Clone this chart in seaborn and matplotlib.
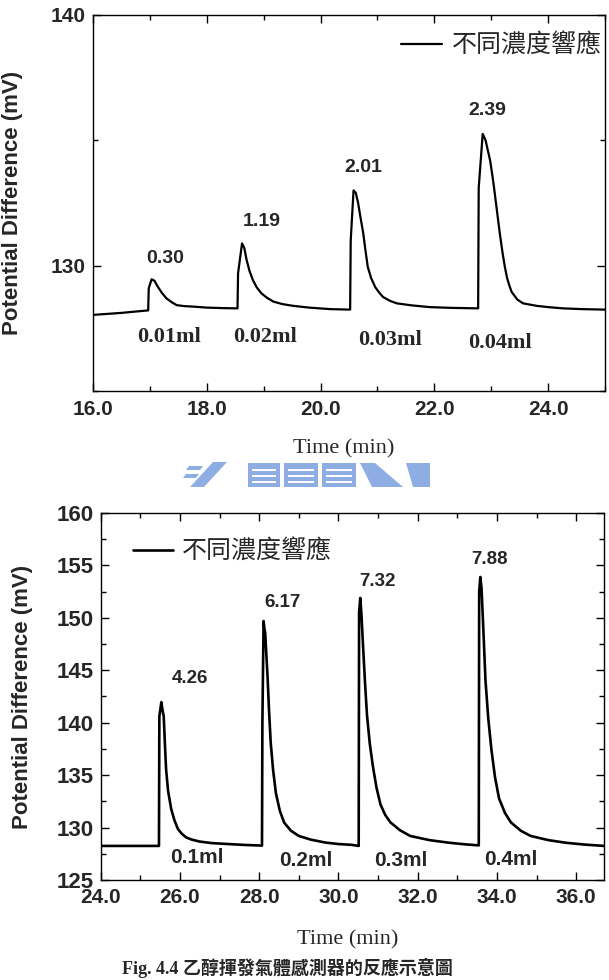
import numpy as np
import pandas as pd
import matplotlib
matplotlib.use("Agg")
import matplotlib.pyplot as plt
from matplotlib.ticker import MultipleLocator, FormatStrFormatter
from matplotlib.patches import Polygon
import seaborn as sns

# 上圖：小體積注入 (time min, potential mV)
top_trace = [
    (16.00, 128.04), (16.50, 128.12), (16.97, 128.22),
    (16.98, 129.10), (17.03, 129.46), (17.08, 129.40), (17.14, 129.16), (17.21, 128.92),
    (17.29, 128.70), (17.38, 128.55), (17.47, 128.43), (17.60, 128.39), (17.76, 128.37),
    (18.00, 128.33), (18.29, 128.31), (18.54, 128.30),
    (18.55, 129.70), (18.62, 130.89), (18.66, 130.70), (18.70, 130.23), (18.75, 129.80),
    (18.81, 129.43), (18.88, 129.13), (18.96, 128.90), (19.06, 128.72), (19.17, 128.57),
    (19.33, 128.47), (19.52, 128.40), (19.80, 128.33), (20.17, 128.27), (20.52, 128.25),
    (20.53, 131.00), (20.58, 133.00), (20.62, 132.90), (20.66, 132.50), (20.70, 131.95),
    (20.75, 131.30), (20.79, 130.60), (20.83, 129.95), (20.89, 129.50), (20.96, 129.15),
    (21.03, 128.93), (21.10, 128.75), (21.22, 128.60), (21.34, 128.50), (21.60, 128.42),
    (21.92, 128.35), (22.30, 128.32), (22.77, 128.30),
    (22.78, 133.10), (22.85, 135.25), (22.90, 135.00), (22.94, 134.60), (22.98, 134.20),
    (23.02, 133.60), (23.05, 133.10), (23.10, 132.20), (23.15, 131.30), (23.20, 130.50),
    (23.24, 129.95), (23.28, 129.50), (23.32, 129.20), (23.36, 128.95), (23.41, 128.80),
    (23.46, 128.65), (23.56, 128.50), (23.68, 128.45), (23.80, 128.40), (24.00, 128.35),
    (24.26, 128.30), (24.60, 128.27), (25.00, 128.25),
]
top_peak_text = ["0.30", "1.19", "2.01", "2.39"]
top_peak_x = [17.27, 18.96, 20.76, 22.94]
top_peak_y = [130.27, 131.75, 133.90, 136.17]
top_vol_text = ["0.01ml", "0.02ml", "0.03ml", "0.04ml"]
top_vol_x = [17.34, 19.02, 21.22, 23.15]
top_vol_y = [127.17, 127.17, 127.04, 126.92]

# 下圖：大體積注入
bottom_trace = [
    (24.00, 128.25), (25.47, 128.25),
    (25.48, 140.60), (25.53, 141.96), (25.56, 141.20), (25.59, 140.60), (25.62, 138.00),
    (25.65, 135.55), (25.70, 133.50), (25.78, 131.75), (25.86, 130.70), (25.95, 129.85),
    (26.05, 129.40), (26.16, 129.05), (26.30, 128.85), (26.49, 128.67), (26.80, 128.52),
    (27.16, 128.44), (27.60, 128.35), (28.07, 128.28),
    (28.08, 140.00), (28.11, 149.70), (28.13, 149.00), (28.15, 148.60), (28.18, 146.50),
    (28.21, 144.40), (28.25, 141.00), (28.29, 138.10), (28.35, 135.50), (28.42, 133.30),
    (28.52, 131.60), (28.63, 130.47), (28.80, 129.70), (29.00, 129.20), (29.30, 128.85),
    (29.67, 128.57), (30.00, 128.43), (30.34, 128.35), (30.51, 128.25),
    (30.52, 150.50), (30.55, 151.90), (30.58, 150.30), (30.62, 147.30), (30.67, 143.80),
    (30.72, 140.70), (30.79, 138.00), (30.87, 135.80), (30.96, 133.80), (31.06, 132.20),
    (31.18, 131.20), (31.31, 130.50), (31.55, 129.75), (31.81, 129.20), (32.30, 128.80),
    (32.80, 128.55), (33.20, 128.40), (33.54, 128.30),
    (33.55, 152.50), (33.58, 153.90), (33.61, 152.80), (33.66, 148.50), (33.71, 144.00),
    (33.78, 140.40), (33.86, 137.40), (33.95, 134.80), (34.05, 132.80), (34.20, 131.40),
    (34.35, 130.50), (34.60, 129.70), (34.85, 129.20), (35.30, 128.80), (35.74, 128.55),
    (36.20, 128.38), (36.70, 128.25),
]
bottom_peak_text = ["4.26", "6.17", "7.32", "7.88"]
bottom_peak_x = [26.25, 28.60, 30.98, 33.82]
bottom_peak_y = [144.2, 151.5, 153.46, 155.56]
bottom_vol_text = ["0.1ml", "0.2ml", "0.3ml", "0.4ml"]
bottom_vol_x = [26.43, 29.18, 31.58, 34.34]
bottom_vol_y = [127.1, 126.85, 126.85, 127.0]

legend_label = "不同濃度響應"
caption = "Fig. 4.4 乙醇揮發氣體感測器的反應示意圖"

sns.set_style("ticks", {"xtick.direction": "in", "ytick.direction": "in"})
plt.rcParams['font.family'] = ['Liberation Sans', 'Noto Sans CJK TC', 'DejaVu Sans']

W, H = 609, 980
fig = plt.figure(figsize=(W / 100, H / 100), dpi=100)
ax1 = fig.add_axes([93 / W, 1 - 391.2 / H, (605 - 93) / W, (391.2 - 14.7) / H])
ax2 = fig.add_axes([100.7 / W, 1 - 880 / H, (604 - 100.7) / W, (880 - 513) / H])

df_top = pd.DataFrame(top_trace, columns=["time", "pd"])
df_bot = pd.DataFrame(bottom_trace, columns=["time", "pd"])

sns.lineplot(data=df_top, x="time", y="pd", ax=ax1, color="black", lw=1.6,
             estimator=None, sort=False, label=legend_label)
sns.lineplot(data=df_bot, x="time", y="pd", ax=ax2, color="black", lw=1.9,
             estimator=None, sort=False, label=legend_label)

serif = ['Liberation Serif', 'Noto Sans CJK TC']
sans = ['Liberation Sans', 'Noto Sans CJK TC']


def style_axis(ax, xlim, ylim, xmaj, xmin, ymaj, ymin, ylabsize, ylab_x, xlab_y):
    ax.set_xlim(*xlim)
    ax.set_ylim(*ylim)
    ax.xaxis.set_major_locator(MultipleLocator(xmaj))
    ax.xaxis.set_minor_locator(MultipleLocator(xmin))
    ax.yaxis.set_major_locator(MultipleLocator(ymaj))
    ax.yaxis.set_minor_locator(MultipleLocator(ymin))
    ax.xaxis.set_major_formatter(FormatStrFormatter('%.1f'))
    ax.tick_params(which='both', direction='in', top=True, right=True, color='black', width=1)
    ax.tick_params(which='major', length=6)
    ax.tick_params(which='minor', length=3.5)
    ax.tick_params(axis='x', pad=6, labelsize=15)
    ax.tick_params(axis='y', pad=5, labelsize=ylabsize)
    for lab in ax.get_xticklabels() + ax.get_yticklabels():
        lab.set_fontweight('bold')
        lab.set_family(sans)
    for sp in ax.spines.values():
        sp.set_color('black')
        sp.set_linewidth(1.0)
    ax.set_ylabel("Potential Difference (mV)", fontsize=16, fontweight='bold', family=sans)
    ax.yaxis.set_label_coords(ylab_x, 0.5)
    ax.yaxis.label.set_verticalalignment('center')
    ax.set_xlabel("Time (min)", fontsize=16, family=serif)
    ax.xaxis.set_label_coords(0.49, xlab_y)
    ax.xaxis.label.set_verticalalignment('center')
    ax.grid(False)


style_axis(ax1, (16, 25), (125, 140), 2, 1, 10, 5, 15, -0.157, -0.152)
style_axis(ax2, (24, 36.7), (125, 160), 2, 1, 5, 2.5, 16, -0.156, -0.162)

for t, x, y in zip(top_peak_text, top_peak_x, top_peak_y):
    ax1.text(x, y, t, ha='center', va='center', fontsize=14, fontweight='bold', family=sans)
for t, x, y in zip(top_vol_text, top_vol_x, top_vol_y):
    ax1.text(x, y, t, ha='center', va='center', fontsize=16, fontweight='bold', family=serif)
for t, x, y in zip(bottom_peak_text, bottom_peak_x, bottom_peak_y):
    ax2.text(x, y, t, ha='center', va='center', fontsize=13.5, fontweight='bold', family=sans)
for t, x, y in zip(bottom_vol_text, bottom_vol_x, bottom_vol_y):
    ax2.text(x, y, t, ha='center', va='center', fontsize=15, fontweight='bold', family=sans)

leg_font = {'family': 'Noto Sans CJK TC', 'size': 18}
ax1.legend(loc='center left', bbox_to_anchor=(0.601, 0.917), frameon=False, prop=leg_font,
           handlelength=1.65, handletextpad=0.4, borderpad=0, borderaxespad=0)
ax2.legend(loc='center left', bbox_to_anchor=(0.064, 0.894), frameon=False, prop=leg_font,
           handlelength=1.6, handletextpad=0.35, borderpad=0, borderaxespad=0)

# 中間淡藍色校徽浮水印 (近似)
wm = '#8eaee3'
shapes = [
    [(190, 487), (204, 487), (227, 462), (213, 462)],
    [(186, 470), (200, 470), (203, 466), (189, 466)],
    [(183, 478), (196, 478), (199, 474), (186, 474)],
    [(248, 463), (280, 463), (280, 487), (248, 487)],
    [(284, 463), (318, 463), (318, 487), (284, 487)],
    [(322, 463), (356, 463), (356, 487), (322, 487)],
    [(360, 463), (375, 463), (403, 487), (372, 487)],
    [(406, 463), (430, 463), (430, 487), (413, 487)],
]
for pts in shapes:
    fig.add_artist(Polygon([(x / W, 1 - y / H) for x, y in pts], closed=True,
                           facecolor=wm, edgecolor='none', transform=fig.transFigure))
for y0 in (469, 475, 481):
    for x0, x1 in ((252, 276), (288, 314), (326, 352)):
        fig.add_artist(Polygon([(x0 / W, 1 - y0 / H), (x1 / W, 1 - y0 / H),
                                (x1 / W, 1 - (y0 + 2) / H), (x0 / W, 1 - (y0 + 2) / H)],
                               closed=True, facecolor='white', edgecolor='none',
                               transform=fig.transFigure))

fig.text(122 / W, 1 - 978 / H, caption, ha='left', va='bottom',
         fontsize=13, fontweight='bold', family=serif)

fig.savefig("out.png", dpi=100)
